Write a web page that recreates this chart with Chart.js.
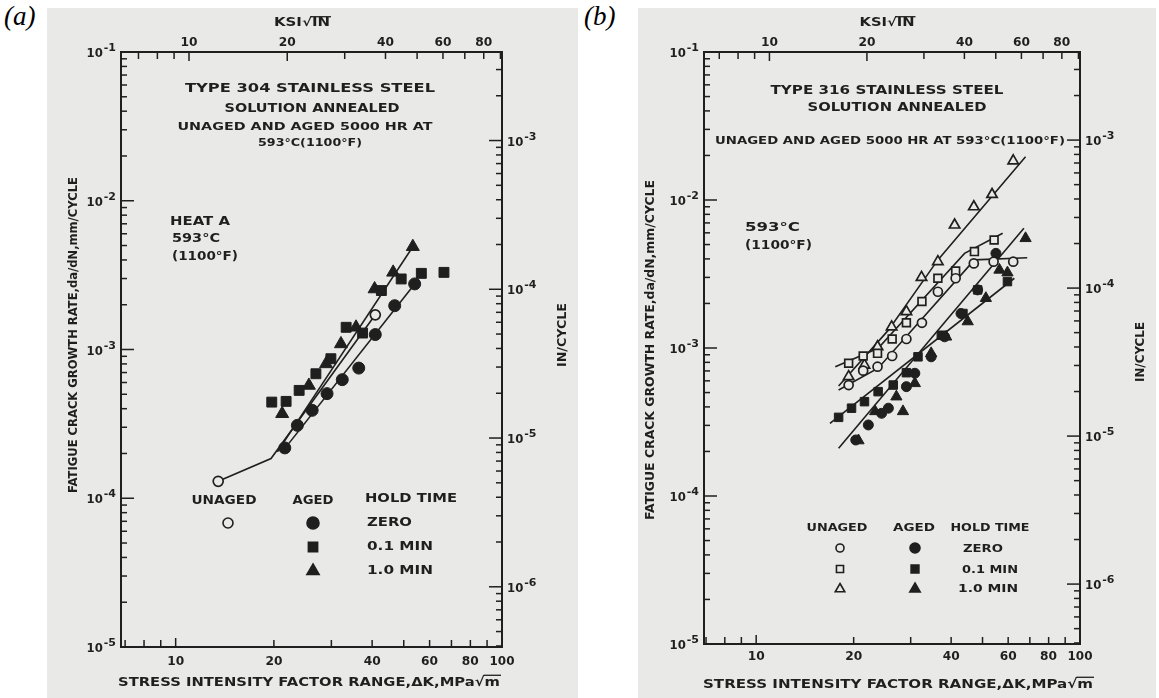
<!DOCTYPE html>
<html lang="en">
<head>
<meta charset="UTF-8">
<title>Fatigue crack growth rate, type 304 and 316 stainless steel at 593 C</title>
<script src="https://cdn.jsdelivr.net/npm/chart.js"></script>
<style>
  body { margin: 0; background: #fff; width: 1159px; height: 698px; overflow: hidden; position: relative; }
  .panel { position: absolute; top: 8px; height: 690px; background: #e9e9e7; }
  #panelA { left: 47px; width: 531px; }
  #panelB { left: 638px; width: 518px; }
  .tag { position: absolute; top: 1px; font: italic 27px "Liberation Serif"; color: #000; }
  canvas { display: block; }
</style>
</head>
<body>
<div class="tag" style="left:4px">(a)</div>
<div class="tag" style="left:584px">(b)</div>
<div class="panel" id="panelA"><canvas id="chartA" width="531" height="690"></canvas></div>
<div class="panel" id="panelB"><canvas id="chartB" width="518" height="690"></canvas></div>

<script>
const INK = '#1f1f1f';
const PAPER = '#e9e9e7';
const MPA_PER_KSI = 1.0988;   // MPa*sqrt(m) per ksi*sqrt(in)
const MM_PER_IN = 25.4;

// axis ticks and labels (shared by both plots)
const mpaTicks = [7, 8, 9, 10, 20, 30, 40, 50, 60, 70, 80, 90];
const mpaLabels = [10, 20, 40, 60, 80, 100];
const ksiTicks = [7, 8, 9, 10, 20, 30, 40, 50, 60, 70, 80, 90];
const ksiLabels = [10, 20, 40, 60, 80];
const mmExps = [-1, -2, -3, -4, -5];
const inExps = [-3, -4, -5, -6];

// ---- (a) type 304, dK in MPa*sqrt(m), da/dN in mm/cycle
const a_unagedZero_K = [13.5, 40.9];
const a_unagedZero_R = [1.30e-4, 1.71e-3];
const a_agedZero_K = [21.6, 23.6, 26.2, 29.1, 32.4, 36.4, 40.9, 46.9, 54.0];
const a_agedZero_R = [2.18e-4, 3.09e-4, 3.90e-4, 5.05e-4, 6.27e-4, 7.5e-4, 1.26e-3, 1.97e-3, 2.76e-3];
const a_aged01_K = [19.7, 21.8, 23.9, 26.9, 29.9, 33.3, 37.4, 42.7, 49.1, 56.6, 66.4];
const a_aged01_R = [4.43e-4, 4.48e-4, 5.31e-4, 6.87e-4, 8.67e-4, 1.41e-3, 1.29e-3, 2.49e-3, 2.98e-3, 3.25e-3, 3.30e-3];
const a_aged10_K = [21.2, 25.6, 28.9, 32.1, 35.7, 40.7, 46.4, 53.3];
const a_aged10_R = [3.70e-4, 5.73e-4, 8.0e-4, 1.09e-3, 1.41e-3, 2.55e-3, 3.30e-3, 4.91e-3];
// hand-drawn trend lines
const a_fitUnaged_K = [13.5, 19.6, 40.9];
const a_fitUnaged_R = [1.30e-4, 1.85e-4, 1.71e-3];
const a_fit10_K = [20.5, 53.3];
const a_fit10_R = [2.05e-4, 4.91e-3];
const a_fitZero_K = [21.2, 54.0];
const a_fitZero_R = [2.05e-4, 2.76e-3];

// ---- (b) type 316
const b_unagedZero_K = [19.3, 21.4, 23.7, 26.3, 29.1, 32.5, 36.4, 41.3, 47.0, 54.1, 62.2];
const b_unagedZero_R = [5.62e-4, 7.03e-4, 7.48e-4, 8.83e-4, 1.15e-3, 1.48e-3, 2.40e-3, 2.96e-3, 3.73e-3, 3.83e-3, 3.83e-3];
const b_unaged01_K = [19.3, 21.4, 23.7, 26.3, 29.1, 32.5, 36.4, 41.3, 47.2, 54.3];
const b_unaged01_R = [7.88e-4, 8.83e-4, 9.2e-4, 1.15e-3, 1.48e-3, 2.06e-3, 2.96e-3, 3.31e-3, 4.48e-3, 5.37e-3];
const b_unaged10_K = [19.3, 21.6, 23.7, 26.2, 29.1, 32.4, 36.4, 41.0, 47.0, 53.5, 62.2];
const b_unaged10_R = [6.40e-4, 7.67e-4, 1.02e-3, 1.39e-3, 1.76e-3, 3.0e-3, 3.83e-3, 6.78e-3, 9.0e-3, 1.09e-2, 1.84e-2];
const b_agedZero_K = [20.3, 22.2, 24.4, 25.6, 29.1, 30.9, 34.7, 38.2, 42.9, 48.3, 55.0];
const b_agedZero_R = [2.39e-4, 3.02e-4, 3.62e-4, 3.92e-4, 5.48e-4, 6.75e-4, 8.72e-4, 1.19e-3, 1.71e-3, 2.47e-3, 4.36e-3];
const b_aged01_K = [17.97, 19.7, 21.6, 23.8, 26.5, 29.1, 31.6, 37.3, 43.5, 48.3, 59.7];
const b_aged01_R = [3.40e-4, 3.92e-4, 4.34e-4, 5.07e-4, 5.62e-4, 6.81e-4, 8.72e-4, 1.22e-3, 1.71e-3, 2.47e-3, 2.81e-3];
const b_aged10_K = [20.7, 23.3, 27.1, 28.4, 30.9, 34.7, 38.6, 45.0, 51.2, 56.4, 59.7, 67.9];
const b_aged10_R = [2.37e-4, 3.73e-4, 4.69e-4, 3.73e-4, 5.77e-4, 9.2e-4, 1.19e-3, 1.51e-3, 2.17e-3, 3.37e-3, 3.23e-3, 5.51e-3];
const b_fitUnagedZero_K = [17.97, 23.8, 47.2, 68.7];
const b_fitUnagedZero_R = [5.2e-4, 7.3e-4, 3.94e-3, 4.07e-3];
const b_fitUnaged01_K = [17.55, 23.8, 44.0, 57.7];
const b_fitUnaged01_R = [7.48e-4, 9.96e-4, 4.36e-3, 5.96e-3];
const b_fitUnaged10_K = [17.97, 25.6, 36.4, 67.9];
const b_fitUnaged10_R = [5.53e-4, 1.32e-3, 3.94e-3, 1.96e-2];
const b_fitAged01_K = [16.9, 62.7];
const b_fitAged01_R = [3.1e-4, 2.96e-3];
const b_fitAged_K = [17.97, 67.1];
const b_fitAged_R = [2.1e-4, 6.45e-3];

const legendRows = ['ZERO', '0.1 MIN', '1.0 MIN'];
const legendShapes = ['circle', 'rect', 'triangle'];

function pts(K, R) {
  return K.map((k, i) => ({ x: k, y: R[i] }));
}

function drawText(ctx, s, x, y, size, width, align, rot) {
  ctx.save();
  ctx.font = 'bold ' + size + 'px "DejaVu Sans"';
  ctx.fillStyle = INK;
  ctx.textBaseline = 'alphabetic';
  ctx.textAlign = 'left';
  const natural = ctx.measureText(s).width;
  const k = width ? width / natural : 1;
  const w = natural * k;
  ctx.translate(x, y);
  if (rot) ctx.rotate(rot);
  const x0 = align === 'left' ? 0 : align === 'right' ? -w : -w / 2;
  const base = size * 0.36;
  ctx.save();
  ctx.translate(x0, base);
  ctx.scale(k, 1);
  ctx.fillText(s, 0, 0);
  ctx.restore();
  // overbar for the square root
  const r = s.indexOf('√');
  if (r >= 0) {
    const a = ctx.measureText(s.slice(0, r + 1)).width * k;
    ctx.strokeStyle = INK;
    ctx.lineWidth = 1.3;
    ctx.beginPath();
    ctx.moveTo(x0 + a - 1, base - size * 0.8);
    ctx.lineTo(x0 + w + 1, base - size * 0.8);
    ctx.stroke();
  }
  ctx.restore();
}

// "10" with a raised exponent
function drawPow(ctx, exp, x, y, align) {
  ctx.save();
  ctx.fillStyle = INK;
  ctx.textBaseline = 'alphabetic';
  ctx.textAlign = 'left';
  ctx.font = 'bold 13px "DejaVu Sans"';
  const w1 = ctx.measureText('10').width * 0.9;
  ctx.font = 'bold 11px "DejaVu Sans"';
  const e = String(exp);
  const w2 = ctx.measureText(e).width;
  const x0 = align === 'right' ? x - w1 - w2 - 1 : x;
  ctx.save();
  ctx.font = 'bold 13px "DejaVu Sans"';
  ctx.translate(x0, y + 5);
  ctx.scale(0.9, 1);
  ctx.fillText('10', 0, 0);
  ctx.restore();
  ctx.fillText(e, x0 + w1 + 1, y - 1);
  ctx.restore();
}

function glyph(ctx, shape, filled, x, y, r) {
  ctx.beginPath();
  if (shape === 'circle') {
    ctx.arc(x, y, r, 0, Math.PI * 2);
  } else if (shape === 'rect') {
    const s = r * Math.SQRT1_2;
    ctx.rect(x - s, y - s, 2 * s, 2 * s);
  } else {
    ctx.moveTo(x, y - r);
    ctx.lineTo(x + r * 0.866, y + r * 0.5);
    ctx.lineTo(x - r * 0.866, y + r * 0.5);
    ctx.closePath();
  }
  ctx.fillStyle = filled ? INK : PAPER;
  ctx.fill();
  ctx.lineWidth = 1.6;
  ctx.strokeStyle = INK;
  ctx.stroke();
}

function logTicks(min, max) {
  const out = [];
  for (let e = Math.floor(Math.log10(min)); e <= Math.ceil(Math.log10(max)); e++) {
    for (let m = 1; m <= 9; m++) {
      const v = m * Math.pow(10, e);
      if (v >= min * 0.999 && v <= max * 1.001) out.push({ v, major: m === 1 });
    }
  }
  return out;
}

// frame, inward ticks, tick labels and all lettering
const framePlugin = {
  id: 'frame',
  afterDraw(chart) {
    const c = chart.config.options.panel;
    const ctx = chart.ctx;
    const { left, right, top, bottom } = chart.chartArea;
    const sx = chart.scales.x, sy = chart.scales.y, sk = chart.scales.ksi, si = chart.scales.inch;
    const line = (x1, y1, x2, y2) => { ctx.beginPath(); ctx.moveTo(x1, y1); ctx.lineTo(x2, y2); ctx.stroke(); };

    ctx.save();
    ctx.strokeStyle = INK;
    ctx.lineWidth = 2;
    ctx.strokeRect(left, top, right - left, bottom - top);
    ctx.lineWidth = 1.5;
    mpaTicks.forEach(v => {
      const px = sx.getPixelForValue(v);
      line(px, bottom, px, bottom - (v === 10 ? 9 : 7));
    });
    ksiTicks.forEach(v => {
      const px = sk.getPixelForValue(v);
      if (px > left + 1 && px < right - 1) line(px, top, px, top + (v === 10 || v === 20 ? 9 : 7));
    });
    logTicks(sy.min, sy.max).forEach(t => {
      const py = sy.getPixelForValue(t.v);
      line(left, py, left + (t.major ? 13 : 6), py);
    });
    logTicks(si.min, si.max).forEach(t => {
      const py = si.getPixelForValue(t.v);
      line(right, py, right - (t.major ? 13 : 6), py);
    });
    ctx.restore();

    mpaLabels.forEach(v => drawText(ctx, String(v), sx.getPixelForValue(v), bottom + c.botLab, 13, v === 100 ? 25 : 17));
    ksiLabels.forEach(v => drawText(ctx, String(v), sk.getPixelForValue(v), top - 11, 13, 17));
    mmExps.forEach(e => drawPow(ctx, e, left - 5, sy.getPixelForValue(Math.pow(10, e)), 'right'));
    inExps.forEach(e => drawPow(ctx, e, right + 5, si.getPixelForValue(Math.pow(10, e)), 'left'));

    const ox = c.ox, oy = c.oy;
    c.texts.forEach(t => drawText(ctx, t[0], t[1] - ox, t[2] - oy, t[3], t[4], t[5], t[6] ? -Math.PI / 2 : 0));
    c.glyphs.forEach(g => glyph(ctx, g[0], g[1], g[2] - ox, g[3] - oy, g[4]));
  }
};

function makeChart(id, panel, series, fits) {
  const datasets = [];
  fits.forEach(f => datasets.push({
    data: pts(f[0], f[1]),
    showLine: true,
    pointRadius: 0,
    borderColor: INK,
    borderWidth: 1.6,
    order: 2
  }));
  series.forEach(s => datasets.push({
    data: pts(s.K, s.R),
    showLine: false,
    pointStyle: s.shape,
    pointRadius: s.r,
    borderWidth: s.filled ? 1 : 1.7,
    borderColor: INK,
    backgroundColor: s.filled ? INK : PAPER,
    order: 1
  }));
  return new Chart(document.getElementById(id), {
    type: 'scatter',
    data: { datasets },
    options: {
      responsive: false,
      animation: false,
      devicePixelRatio: 1,
      layout: { padding: panel.pad },
      plugins: { legend: { display: false }, tooltip: { enabled: false } },
      events: [],
      panel,
      scales: {
        x: { type: 'logarithmic', min: panel.kMin, max: 100, display: false },
        y: { type: 'logarithmic', min: 1e-5, max: 1e-1, display: false },
        ksi: { type: 'logarithmic', axis: 'x', position: 'top', min: panel.kMin / MPA_PER_KSI, max: 100 / MPA_PER_KSI, display: false },
        inch: { type: 'logarithmic', axis: 'y', position: 'right', min: 1e-5 / MM_PER_IN, max: 1e-1 / MM_PER_IN, display: false }
      }
    },
    plugins: [framePlugin]
  });
}

const xTitle = 'STRESS INTENSITY FACTOR RANGE,ΔK,MPa√m';
const yTitle = 'FATIGUE CRACK GROWTH RATE,da/dN,mm/CYCLE';

makeChart('chartA', {
  ox: 47, oy: 8, kMin: 6.8, botLab: 13,
  pad: { left: 74, top: 44, right: 76, bottom: 51 },
  texts: [
    ['KSI√IN', 302, 22, 12, 56],
    ['TYPE 304 STAINLESS STEEL', 310, 87, 13, 250],
    ['SOLUTION ANNEALED', 312, 107, 13, 175],
    ['UNAGED AND AGED 5000 HR AT', 305, 126, 11, 255],
    ['593°C(1100°F)', 310, 142, 11, 104],
    ['HEAT A', 170, 221, 12, 60, 'left'],
    ['593°C', 172, 238, 12, 48, 'left'],
    ['(1100°F)', 172, 256, 12, 66, 'left'],
    ['UNAGED', 224, 500, 12, 65],
    ['AGED', 313, 500, 12, 41],
    ['HOLD TIME', 411, 498, 12, 92],
    [legendRows[0], 367, 522, 12, 45, 'left'],
    [legendRows[1], 367, 546, 12, 66, 'left'],
    [legendRows[2], 367, 570, 12, 66, 'left'],
    [xTitle, 309, 681, 13, 382],
    [yTitle, 73, 335, 12, 316, null, true],
    ['IN/CYCLE', 562, 335, 12, 64, null, true]
  ],
  glyphs: [
    ['circle', false, 228, 523, 5],
    [legendShapes[0], true, 313, 523, 6],
    [legendShapes[1], true, 313, 547, 6.5],
    [legendShapes[2], true, 313, 571, 7]
  ]
}, [
  { K: a_unagedZero_K, R: a_unagedZero_R, shape: 'circle', filled: false, r: 5 },
  { K: a_agedZero_K, R: a_agedZero_R, shape: 'circle', filled: true, r: 6 },
  { K: a_aged01_K, R: a_aged01_R, shape: 'rect', filled: true, r: 7 },
  { K: a_aged10_K, R: a_aged10_R, shape: 'triangle', filled: true, r: 7.5 }
], [
  [a_fitUnaged_K, a_fitUnaged_R],
  [a_fit10_K, a_fit10_R],
  [a_fitZero_K, a_fitZero_R]
]);

makeChart('chartB', {
  ox: 638, oy: 8, kMin: 6.9, botLab: 11,
  pad: { left: 66, top: 44, right: 76, bottom: 54 },
  texts: [
    ['KSI√IN', 887, 22, 12, 55],
    ['TYPE 316 STAINLESS STEEL', 887, 89, 13, 233],
    ['SOLUTION ANNEALED', 897, 106, 13, 179],
    ['UNAGED AND AGED 5000 HR AT 593°C(1100°F)', 890, 140, 11, 350],
    ['593°C', 745, 227, 12, 55, 'left'],
    ['(1100°F)', 745, 245, 12, 67, 'left'],
    ['UNAGED', 837, 527, 11, 61],
    ['AGED', 914, 527, 11, 42],
    ['HOLD TIME', 990, 527, 11, 79],
    [legendRows[0], 983, 548, 11, 40],
    [legendRows[1], 990, 569, 11, 56],
    [legendRows[2], 988, 588, 11, 60],
    [xTitle, 898, 683, 13, 390],
    [yTitle, 650, 350, 12, 340, null, true],
    ['IN/CYCLE', 1140, 352, 12, 60, null, true]
  ],
  glyphs: [
    [legendShapes[0], false, 840, 548, 4],
    [legendShapes[0], true, 915, 548, 5],
    [legendShapes[1], false, 840, 569, 5],
    [legendShapes[1], true, 915, 569, 5.5],
    [legendShapes[2], false, 840, 589, 5.5],
    [legendShapes[2], true, 915, 589, 6]
  ]
}, [
  { K: b_unagedZero_K, R: b_unagedZero_R, shape: 'circle', filled: false, r: 4.5 },
  { K: b_unaged01_K, R: b_unaged01_R, shape: 'rect', filled: false, r: 5.5 },
  { K: b_unaged10_K, R: b_unaged10_R, shape: 'triangle', filled: false, r: 6 },
  { K: b_agedZero_K, R: b_agedZero_R, shape: 'circle', filled: true, r: 5 },
  { K: b_aged01_K, R: b_aged01_R, shape: 'rect', filled: true, r: 6 },
  { K: b_aged10_K, R: b_aged10_R, shape: 'triangle', filled: true, r: 6.5 }
], [
  [b_fitUnagedZero_K, b_fitUnagedZero_R],
  [b_fitUnaged01_K, b_fitUnaged01_R],
  [b_fitUnaged10_K, b_fitUnaged10_R],
  [b_fitAged01_K, b_fitAged01_R],
  [b_fitAged_K, b_fitAged_R]
]);
</script>
</body>
</html>
